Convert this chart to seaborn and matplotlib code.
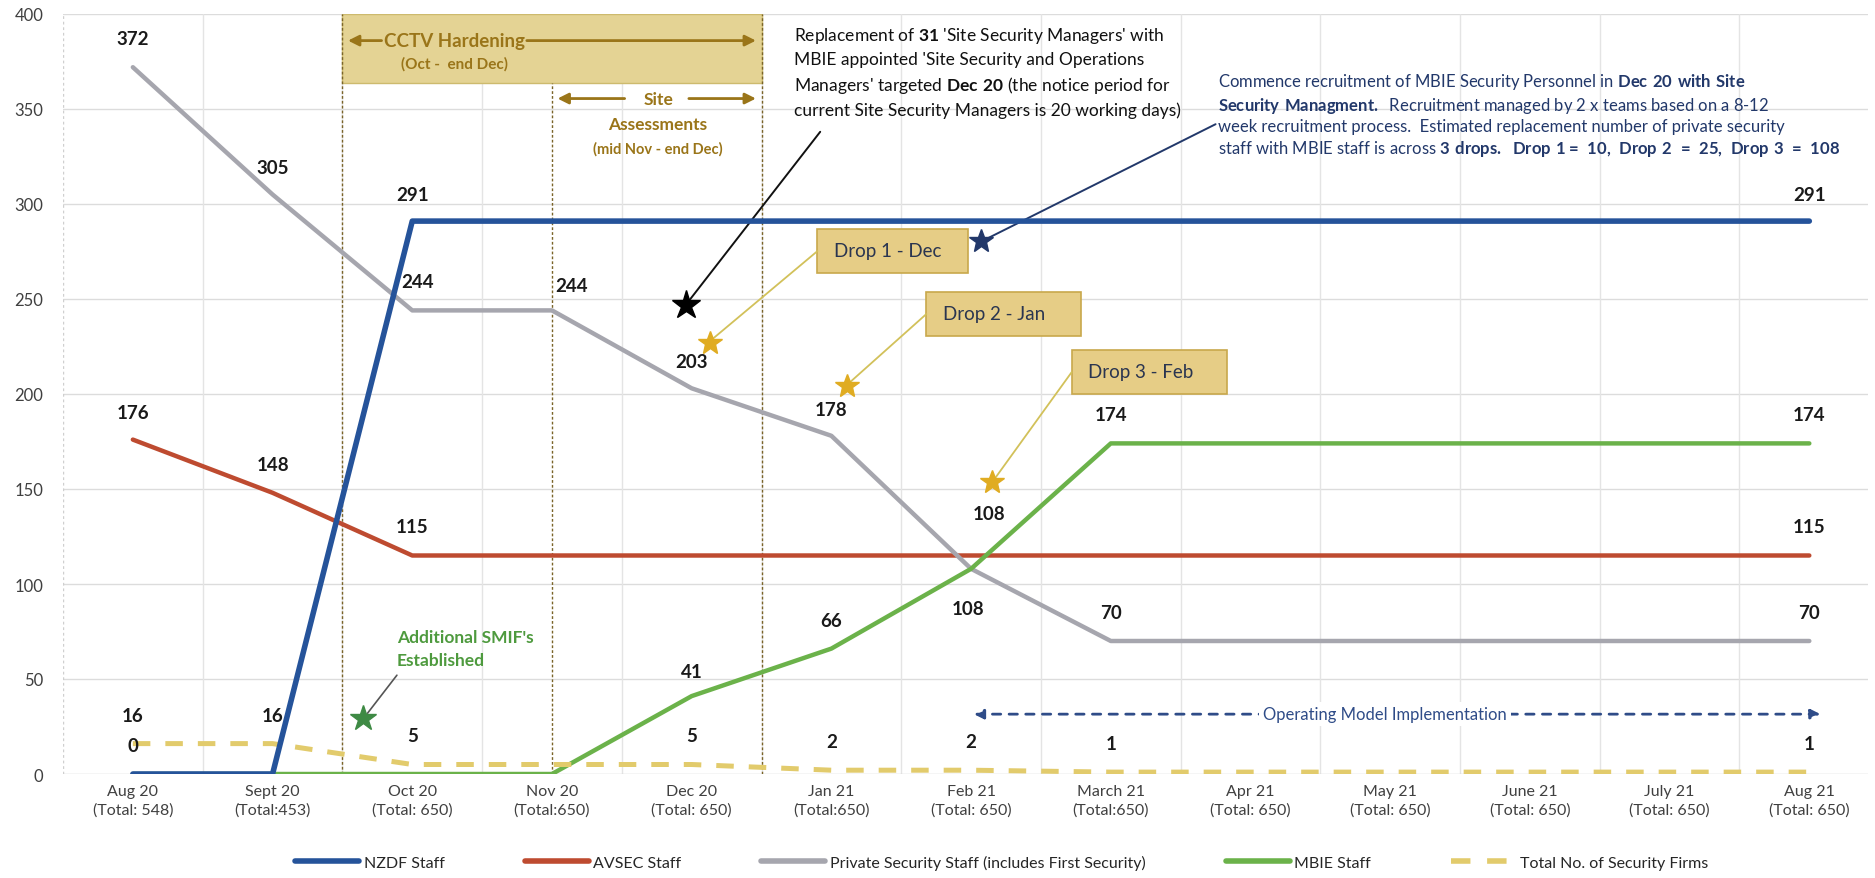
import numpy as np
import pandas as pd
import matplotlib
matplotlib.use("Agg")
import matplotlib.pyplot as plt
from matplotlib.patches import Rectangle
from matplotlib.lines import Line2D
import seaborn as sns

sns.set_style("white")
plt.rcParams["font.family"] = ["Lato", "DejaVu Sans"]
plt.rcParams["mathtext.fontset"] = "custom"
plt.rcParams["mathtext.rm"] = "Lato"
plt.rcParams["mathtext.bf"] = "Lato:bold"

months = ["Aug 20\n(Total: 548)", "Sept 20\n(Total:453)", "Oct 20\n(Total: 650)",
          "Nov 20\n(Total:650)", "Dec 20\n(Total: 650)", "Jan 21\n(Total:650)",
          "Feb 21\n(Total: 650)", "March 21\n(Total:650)", "Apr 21\n(Total: 650)",
          "May 21\n(Total: 650)", "June 21\n(Total: 650)", "July 21\n(Total: 650)",
          "Aug 21\n(Total: 650)"]
nzdf    = [0, 0, 291, 291, 291, 291, 291, 291, 291, 291, 291, 291, 291]
avsec   = [176, 148, 115, 115, 115, 115, 115, 115, 115, 115, 115, 115, 115]
private = [372, 305, 244, 244, 203, 178, 108, 70, 70, 70, 70, 70, 70]
mbie    = [0, 0, 0, 0, 41, 66, 108, 174, 174, 174, 174, 174, 174]
firms   = [16, 16, 5, 5, 5, 2, 2, 1, 1, 1, 1, 1, 1]

names = ["NZDF Staff", "AVSEC Staff", "Private Security Staff (includes First Security)",
         "MBIE Staff", "Total No. of Security Firms"]
series = [nzdf, avsec, private, mbie, firms]
colors = ["#25539A", "#BE4B30", "#A6A6AE", "#6BB24A", "#E2CB6C"]
widths = [4.0, 3.2, 3.2, 3.2, 3.6]
dashed = (0, (3.5, 3))

# which points get a value label: index -> (dx, dy) in data units
label_pos = [
    {0: (0, 15), 2: (0, 14), 12: (0, 14)},
    {0: (0, 14), 1: (0, 15), 2: (0, 15), 12: (0, 15)},
    {0: (0, 15), 1: (0, 14), 2: (0.04, 15), 3: (0.14, 13), 4: (0, 14), 5: (0, 14),
     6: (-0.02, -21), 7: (0, 15), 12: (0, 15)},
    {4: (0, 13), 5: (0, 15), 6: (0.13, 29), 7: (0, 15), 12: (0, 15)},
    {0: (0, 15), 1: (0, 15), 2: (0, 15), 4: (0, 15), 5: (0, 15), 6: (0, 15),
     7: (0, 15), 12: (0, 15)},
]

df = pd.concat([pd.DataFrame({"x": np.arange(len(months)), "y": s, "series": n})
                for s, n in zip(series, names)])

W, H = 1875, 879
fig = plt.figure(figsize=(W / 100, H / 100), dpi=100)
ax = fig.add_axes([63 / W, 1 - 775 / H, 1805 / W, 760 / H])

# grid
for yv in range(50, 401, 50):
    ax.axhline(yv, color="#DCDCDC", lw=1, zorder=0)
for xv in np.arange(0.5, 12, 1):
    ax.axvline(xv, color="#E4E4E4", lw=1, zorder=0)
ax.axvline(-0.5, color="#CFCFCF", lw=1, ls=(0, (2, 2)), zorder=0)
ax.axhline(0, color="#D0D0D0", lw=1, zorder=0)

# CCTV / site assessment bands
ax.add_patch(Rectangle((1.5, 363.5), 3.0, 36.5, fc="#E4D394", ec="#CDBA6E", lw=1, zorder=1))
ax.plot([1.5, 1.5], [0, 400], color="#7A6428", lw=1, ls=(0, (2, 1.5)), zorder=1)
ax.plot([4.5, 4.5], [0, 400], color="#7A6428", lw=1, ls=(0, (2, 1.5)), zorder=1)
ax.plot([3.0, 3.0], [0, 363.5], color="#7A6428", lw=1, ls=(0, (2, 1.5)), zorder=1)

OLIVE = "#9A7519"
arr = dict(arrowstyle="-|>", color=OLIVE, lw=2, mutation_scale=16)
ax.annotate("", xy=(1.52, 386), xytext=(1.8, 386), arrowprops=arr, zorder=3)
ax.annotate("", xy=(4.48, 386), xytext=(2.8, 386), arrowprops=arr, zorder=3)
ax.text(2.3, 386, "CCTV Hardening", ha="center", va="center", color=OLIVE,
        fontsize=13.5, fontweight="bold", zorder=3)
ax.text(2.3, 374, "(Oct -  end Dec)", ha="center", va="center", color=OLIVE,
        fontsize=11, fontweight="bold", zorder=3)
ax.annotate("", xy=(3.02, 355.5), xytext=(3.54, 355.5), arrowprops=arr, zorder=3)
ax.annotate("", xy=(4.48, 355.5), xytext=(3.96, 355.5), arrowprops=arr, zorder=3)
ax.text(3.76, 355.5, "Site", ha="center", va="center", color=OLIVE,
        fontsize=12.5, fontweight="bold")
ax.text(3.76, 342, "Assessments", ha="center", va="center", color=OLIVE,
        fontsize=12.5, fontweight="bold")
ax.text(3.76, 329.5, "(mid Nov - end Dec)", ha="center", va="center", color=OLIVE,
        fontsize=10.5, fontweight="bold")

# lines
for n, c, w in zip(names, colors, widths):
    d = df[df.series == n]
    sns.lineplot(data=d, x="x", y="y", ax=ax, color=c, lw=w, legend=False,
                 linestyle=dashed if n.startswith("Total") else "-",
                 zorder=4 if n.startswith("NZDF") else 3)

# value labels
for s, pos in zip(series, label_pos):
    for i, (dx, dy) in pos.items():
        ax.text(i + dx, s[i] + dy, f"{s[i]}", ha="center", va="center",
                fontsize=13.5, fontweight="bold", color="#1A1A1A", zorder=5)

# black note
ax.text(4.73, 394, "Replacement of $\\mathbf{31}$ 'Site Security Managers' with\n"
        "MBIE appointed 'Site Security and Operations\n"
        "Managers' targeted $\\mathbf{Dec\\ 20}$ (the notice period for\n"
        "current Site Security Managers is 20 working days)",
        ha="left", va="top", fontsize=12.5, linespacing=1.45, color="#111111")
ax.plot([4.92, 3.98], [338, 249], color="#111111", lw=1.4)
ax.plot(3.96, 247, marker="*", ms=21, color="black", zorder=6)

# blue note
NAVY = "#22386A"
ax.text(7.77, 370, "Commence recruitment of MBIE Security Personnel in $\\mathbf{Dec\\ 20\\ with\\ Site}$\n"
        "$\\mathbf{Security\\ Managment.}$  Recruitment managed by 2 x teams based on a 8-12\n"
        "week recruitment process.  Estimated replacement number of private security\n"
        "staff with MBIE staff is across $\\mathbf{3\\ drops.}$  "
        "$\\mathbf{Drop\\ 1{=}\\ 10,\\ Drop\\ 2\\ {=}\\ 25,\\ Drop\\ 3\\ {=}\\ 108}$",
        ha="left", va="top", fontsize=12, linespacing=1.25, color=NAVY)
ax.plot([7.75, 6.12], [342, 282], color=NAVY, lw=1.4)
ax.plot(6.07, 280.5, marker="*", ms=18, color=NAVY, zorder=6)

# drop boxes: text, box left, box bottom, box width, star position
drops = [("Drop 1 - Dec", 4.90, 263.7, 1.08, (4.13, 227)),
         ("Drop 2 - Jan", 5.68, 230.6, 1.11, (5.11, 204)),
         ("Drop 3 - Feb", 6.72, 200.0, 1.11, (6.15, 153.5))]
for txt, x0, y0, bw, (sx, sy) in drops:
    ax.add_patch(Rectangle((x0, y0), bw, 23, fc="#E6CD86", ec="#C8A84C", lw=1.2, zorder=5))
    ax.text(x0 + 0.12, y0 + 12, txt, ha="left", va="center", fontsize=13.5,
            color="#2A3550", zorder=6)
    ax.plot([x0, sx + 0.02], [y0 + 11.5, sy + 2], color="#D2C15A", lw=1.3, zorder=5)
    ax.plot(sx, sy, marker="*", ms=18, color="#E0AC22", zorder=6)

# SMIF note
ax.plot([1.89, 1.68], [52, 32], color="#555555", lw=1.2, zorder=5)
ax.plot(1.65, 29.7, marker="*", ms=19, color="#3E8A44", zorder=6)
ax.text(1.89, 66, "Additional SMIF's\nEstablished", ha="left", va="center",
        fontsize=12.5, fontweight="bold", color="#4E9A3E", linespacing=1.5)

# operating model arrow
ax.annotate("", xy=(6.0, 31.5), xytext=(12.1, 31.5),
            arrowprops=dict(arrowstyle="<|-|>", color="#2F4C88", lw=2,
                            ls=(0, (3, 3)), mutation_scale=14))
ax.text(8.96, 31.5, "Operating Model Implementation", ha="center", va="center",
        fontsize=12, color="#2F4C88", bbox=dict(fc="white", ec="none", pad=3))

ax.set_xlim(-0.5, 12.42)
ax.set_ylim(0, 400)
ax.set_xticks(range(len(months)))
ax.set_xticklabels(months, fontsize=11.5, color="#404040", linespacing=1.45)
ax.set_yticks(range(0, 401, 50))
ax.tick_params(axis="y", labelsize=12, colors="#404040", pad=14, length=0)
ax.tick_params(axis="x", pad=7, length=0)
ax.set_xlabel(""); ax.set_ylabel("")
for sp in ax.spines.values():
    sp.set_visible(False)

handles = [Line2D([], [], color=c, lw=4, ls=dashed if n.startswith("Total") else "-")
           for n, c in zip(names, colors)]
ax.legend(handles, names, loc="center", bbox_to_anchor=(0.52, -0.116), ncol=5,
          frameon=False, fontsize=11.5, handlelength=4, handletextpad=0.3,
          columnspacing=5)

fig.savefig("out.png", dpi=100)
